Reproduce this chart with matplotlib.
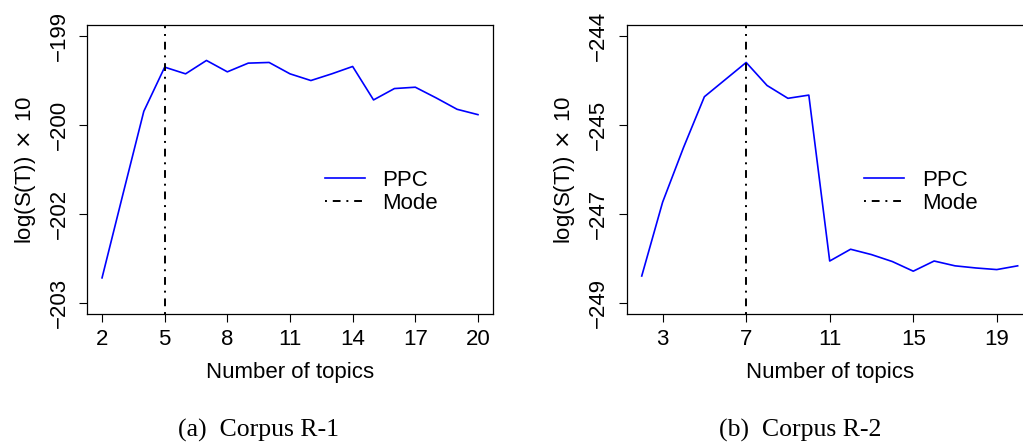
import numpy as np
import matplotlib
matplotlib.use("Agg")
import matplotlib.pyplot as plt

plt.rcParams['font.family'] = ['Liberation Sans', 'DejaVu Sans']

# number of topics (shared by both corpora)
topics = np.arange(2, 21)

# Corpus R-1, log(S(T)) x 10
ppc_r1 = [-202.62, -201.37, -200.13, -199.47, -199.57, -199.37, -199.54, -199.41,
          -199.40, -199.57, -199.67, -199.57, -199.46, -199.96, -199.79, -199.77,
          -199.93, -200.10, -200.18]
mode_r1 = 5
yticks_r1 = [-203.0, -201.667, -200.333, -199.0]
ylabels_r1 = ["-203", "-202", "-200", "-199"]
xticks_r1 = [2, 5, 8, 11, 14, 17, 20]

# Corpus R-2
ppc_r2 = [-248.49, -247.11, -246.09, -245.14, -244.82, -244.50, -244.93, -245.17,
          -245.11, -248.21, -247.99, -248.09, -248.22, -248.40, -248.21, -248.30,
          -248.34, -248.37, -248.30]
mode_r2 = 7
yticks_r2 = [-249.0, -247.333, -245.667, -244.0]
ylabels_r2 = ["-249", "-247", "-245", "-244"]
xticks_r2 = [3, 7, 11, 15, 19]

captions = ["(a)  Corpus R-1", "(b)  Corpus R-2"]

W, H = 1023, 442
fig = plt.figure(figsize=(W / 100, H / 100), dpi=100)

def make_axes(left_px):
    return fig.add_axes([left_px / W, 1 - 314 / H, 406 / W, 289 / H])

def draw(ax, ppc, mode, yticks, ylabels, xticks):
    ax.plot(topics, ppc, color="blue", lw=1.2, label="PPC")
    ax.axvline(mode, color="black", lw=1.4, linestyle=(0, (1, 3, 4, 3)), label="Mode")
    ax.set_xlim(1.28, 20.72)
    span = yticks[-1] - yticks[0]
    ax.set_ylim(yticks[0] - 0.04 * span, yticks[-1] + 0.04 * span)
    ax.set_xticks(xticks)
    ax.set_yticks(yticks)
    ax.set_yticklabels([s.replace("-", "\u2212") for s in ylabels],
                       rotation=90, va="center")
    ax.tick_params(direction="out", length=5.5, width=0.8, labelsize=16)
    ax.tick_params(axis="x", pad=5)
    ax.tick_params(axis="y", pad=7)
    for sp in ax.spines.values():
        sp.set_linewidth(0.9)
    ax.set_xlabel("Number of topics", fontsize=16, labelpad=9)
    ax.set_ylabel("log(S(T))$\\,\\times\\,$10", fontsize=16, labelpad=8)
    ax.legend(frameon=False, loc="center left", bbox_to_anchor=(0.585, 0.422),
              fontsize=16, handlelength=1.8, handletextpad=0.8,
              labelspacing=0.1, borderpad=0, borderaxespad=0)

ax1 = make_axes(87)
draw(ax1, ppc_r1, mode_r1, yticks_r1, ylabels_r1, xticks_r1)
ax2 = make_axes(626.7)
draw(ax2, ppc_r2, mode_r2, yticks_r2, ylabels_r2, xticks_r2)

for cx, cap in zip([259, 800], captions):
    fig.text(cx / W, 1 - 437 / H, cap, ha="center", va="baseline",
             fontsize=18.5, family="Liberation Serif")

fig.savefig("out.png", dpi=100)
